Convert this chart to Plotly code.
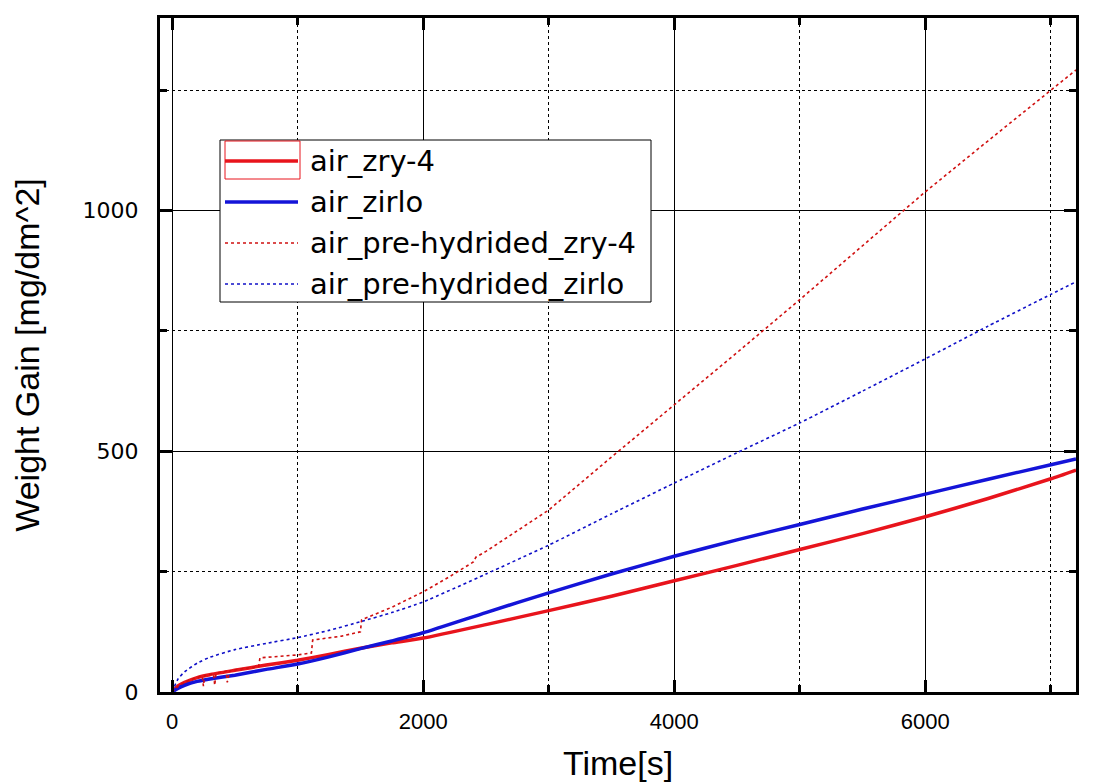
import plotly.graph_objects as go

# tiempo [s] y ganancia de peso [mg/dm^2]
t_zry4 = [0, 50, 100, 200, 300, 500, 750, 1000, 1250, 1500, 1750, 2000, 2500, 3000,
          3500, 4000, 4500, 5000, 5500, 6000, 6500, 7000, 7200]
w_zry4 = [0, 13, 20, 30, 36, 45, 56, 66, 78, 91, 102, 112, 140, 169,
          199, 231, 263, 296, 329, 364, 402, 443, 461]

t_zirlo = [0, 50, 100, 200, 300, 500, 750, 1000, 1250, 1500, 1750, 2000, 2500, 3000,
           3500, 4000, 4500, 5000, 5500, 6000, 6500, 7000, 7200]
w_zirlo = [0, 8, 14, 22, 27, 35, 47, 58, 73, 90, 106, 123, 165, 206,
           245, 282, 316, 348, 380, 411, 442, 472, 484]

t_ph_zry4 = [0, 50, 100, 150, 200, 240, 250, 260, 330, 340, 350, 430, 440, 460, 500,
             690, 700, 1000, 1110, 1120, 1350, 1500, 1510, 1750, 2000, 2200, 2400, 2420,
             2500, 3000, 3500, 4000, 4500, 5000, 5500, 6000, 6500, 7000, 7200]
w_ph_zry4 = [0, 12, 20, 26, 30, 33, 12, 34, 38, 14, 39, 43, 20, 44, 46,
             53, 71, 77, 81, 108, 116, 125, 150, 176, 208, 238, 270, 280,
             292, 378, 488, 596, 705, 815, 927, 1039, 1145, 1250, 1292]

t_ph_zirlo = [0, 50, 100, 200, 300, 500, 750, 1000, 1250, 1500, 1750, 2000, 2500, 3000,
              3500, 4000, 4500, 5000, 5500, 6000, 6500, 7000, 7200]
w_ph_zirlo = [0, 28, 42, 60, 72, 88, 101, 113, 128, 146, 165, 187, 245, 305,
              370, 434, 497, 559, 625, 692, 760, 826, 852]

nombres = ["air_zry-4", "air_zirlo", "air_pre-hydrided_zry-4", "air_pre-hydrided_zirlo"]
colores = ["#E8141C", "#1414D8", "#D01010", "#1010C8"]
estilos = [("solid", 3.5), ("solid", 3.5), ("dot", 1.6), ("dot", 1.6)]
series = [(t_zry4, w_zry4), (t_zirlo, w_zirlo), (t_ph_zry4, w_ph_zry4), (t_ph_zirlo, w_ph_zirlo)]

fig = go.Figure()
for (t, w), nombre, color, (dash, ancho) in zip(series, nombres, colores, estilos):
    # la curva escalonada de zry-4 pre-hidrurado se deja sin suavizar
    forma = "linear" if nombre == "air_pre-hydrided_zry-4" else "spline"
    fig.add_trace(go.Scatter(x=t, y=w, name=nombre, mode="lines", showlegend=False,
                             line=dict(color=color, width=ancho, dash=dash,
                                       shape=forma, smoothing=0.5)))

# el cuerpo de la pagina desplaza la figura 8 px; area de trazado: x 160-1076, y 18-692
L, R, T, B = 152, 21, 10, 90
W, H = 1089, 774
pw, ph = W - L - R, H - T - B


def px_x(x):
    return (x - 160) / pw


def px_y(y):
    return (692 - y) / ph


# Leyenda dibujada a mano (caja, muestras de linea, recuadro rojo y textos)
fig.add_shape(type="rect", xref="paper", yref="paper", layer="above",
              x0=px_x(220), x1=px_x(651), y0=px_y(302), y1=px_y(140),
              line=dict(color="black", width=1), fillcolor="white")
filas = [161, 202, 243, 284]
for fila, nombre, color, (dash, ancho) in zip(filas, nombres, colores, estilos):
    fig.add_shape(type="line", xref="paper", yref="paper", layer="above",
                  x0=px_x(225), x1=px_x(298), y0=px_y(fila), y1=px_y(fila),
                  line=dict(color=color, width=ancho, dash=dash))
    fig.add_annotation(xref="paper", yref="paper", x=px_x(308), y=px_y(fila),
                       xanchor="left", yanchor="middle", text=nombre, showarrow=False,
                       font=dict(size=29, family="DejaVu Sans, Verdana", color="black"))
fig.add_shape(type="rect", xref="paper", yref="paper", layer="above",
              x0=px_x(225), x1=px_x(300), y0=px_y(179), y1=px_y(141),
              line=dict(color="#E8141C", width=1))

fig.update_layout(
    width=W, height=H,
    margin=dict(l=L, r=R, t=T, b=B, autoexpand=False),
    paper_bgcolor="white", plot_bgcolor="white",
    font=dict(family="Liberation Sans, Arial", color="black"),
    showlegend=False,
    xaxis=dict(
        range=[-96, 7200], dtick=2000, tick0=0, automargin=False,
        showline=True, linecolor="black", linewidth=3, mirror="allticks",
        ticks="inside", ticklen=12, tickwidth=3, tickcolor="black",
        showgrid=True, gridcolor="black", gridwidth=1, zeroline=False,
        tickfont=dict(size=22, family="Liberation Sans, Arial"),
        ticklabelstandoff=8,
        minor=dict(dtick=1000, tick0=0, ticks="inside", ticklen=7, tickwidth=3,
                   tickcolor="black", showgrid=True, gridcolor="black",
                   griddash="dot", gridwidth=1),
        title=dict(text="Time[s]", font=dict(size=34), standoff=34),
    ),
    yaxis=dict(
        range=[0, 1400], dtick=500, tick0=0, automargin=False,
        showline=True, linecolor="black", linewidth=3, mirror="allticks",
        ticks="inside", ticklen=12, tickwidth=3, tickcolor="black",
        showgrid=True, gridcolor="black", gridwidth=1, zeroline=False,
        tickfont=dict(size=22, family="DejaVu Sans, Verdana"),
        ticklabelstandoff=14,
        minor=dict(dtick=250, tick0=0, ticks="inside", ticklen=7, tickwidth=3,
                   tickcolor="black", showgrid=True, gridcolor="black",
                   griddash="dot", gridwidth=1),
        title=dict(text="Weight Gain [mg/dm^2]", font=dict(size=34), standoff=44),
    ),
)

fig.write_html("out.html")
